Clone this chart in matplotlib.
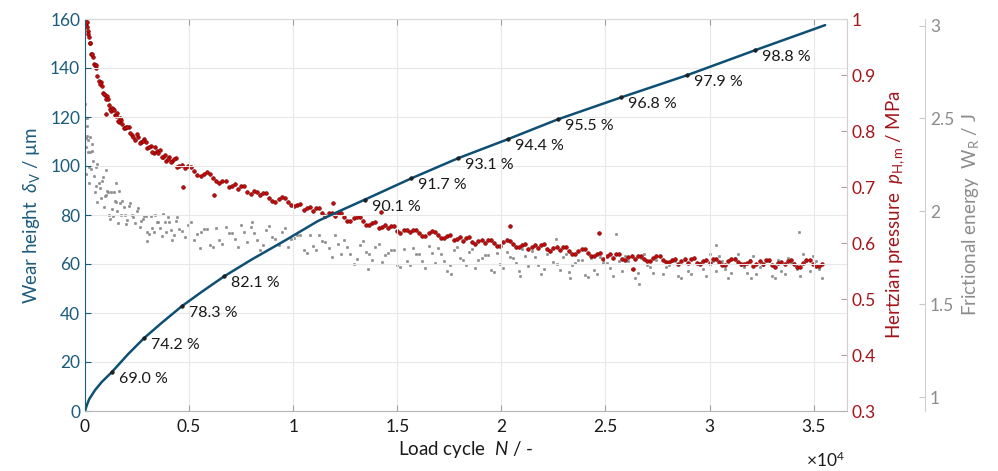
import matplotlib
matplotlib.use("Agg")
import matplotlib.pyplot as plt
from matplotlib.ticker import FuncFormatter, FixedLocator

plt.rcParams['font.family'] = ['Lato', 'DejaVu Sans']
plt.rcParams['mathtext.fontset'] = 'custom'
plt.rcParams['mathtext.rm'] = 'Lato'
plt.rcParams['mathtext.it'] = 'Lato:italic'

# ---------------- data ----------------
# Wear height curve (load cycles, µm)
wear_N = [0, 80, 200, 480, 800, 1280, 2080, 2830, 3700, 4640, 5600, 6690, 8000, 9610,
          11200, 12300, 13450, 15660, 17900, 20300, 22700, 25750, 28900, 32200, 35550]
wear_d = [0, 2.2, 4.8, 8.5, 11.8, 15.8, 23.3, 29.7, 36.1, 42.7, 48.6, 55.0, 61.8, 69.6,
          77.6, 81.9, 86.3, 94.9, 103.1, 110.9, 119.0, 128.0, 137.0, 147.3, 157.5]

# Marked points with percentage labels
pct_N = [1280, 2830, 4640, 6690, 13450, 15660, 17900, 20300, 22700, 25750, 28900, 32200]
pct_d = [15.8, 29.7, 42.7, 55.0, 86.3, 94.9, 103.1, 110.9, 119.0, 128.0, 137.0, 147.3]
pct_labels = ['69.0 %', '74.2 %', '78.3 %', '82.1 %', '90.1 %', '91.7 %', '93.1 %',
              '94.4 %', '95.5 %', '96.8 %', '97.9 %', '98.8 %']

# Measurement cycles for pressure / frictional energy (set A)
meas_N = [0, 50, 100, 160, 220, 300, 380, 460, 550, 650, 750, 850, 950, 1050, 1150,
          1250, 1350, 1450, 1550, 1650, 1750, 1850, 1950, 2100, 2250, 2400, 2550, 2700,
          2850, 3000, 3150, 3300, 3450, 3600, 3750, 3900, 4050, 4200, 4350, 4500,
          4800, 5100, 5400, 5700, 6000, 6300, 6600, 6900, 7200, 7500, 7800, 8100, 8400,
          8700, 9000, 9300, 9600, 9900, 10200, 10500, 10800, 11100, 11400, 11700, 12000,
          12300, 12600, 12900, 13200, 13500, 13800, 14100, 14400, 14700, 15000, 15300,
          15600, 15900, 16200, 16500, 16800, 17100, 17400, 17700, 18000, 18300, 18600,
          18900, 19200, 19500, 19800, 20100, 20400, 20700, 21000, 21300, 21600, 21900,
          22200, 22500, 22800, 23100, 23400, 23700, 24000, 24300, 24600, 24900, 25200,
          25500, 25800, 26100, 26400, 26700, 27000, 27300, 27600, 27900, 28200, 28500,
          28800, 29100, 29400, 29700, 30000, 30300, 30600, 30900, 31200, 31500, 31800,
          32100, 32400, 32700, 33000, 33300, 33600, 33900, 34200, 34500, 34800, 35100,
          35400]
# Measurement cycles (set B, in between)
meas2_N = [25, 75, 130, 190, 260, 340, 420, 505, 600, 700, 800, 900, 1000, 1100, 1200,
           1300, 1400, 1500, 1600, 1700, 1800, 1900, 2025, 2175, 2325, 2475, 2625, 2775,
           2925, 3075, 3225, 3375, 3525, 3675, 3825, 3975, 4125, 4275, 4425, 4650,
           4950, 5250, 5550, 5850, 6150, 6450, 6750, 7050, 7350, 7650, 7950, 8250, 8550,
           8850, 9150, 9450, 9750, 10050, 10350, 10650, 10950, 11250, 11550, 11850,
           12150, 12450, 12750, 13050, 13350, 13650, 13950, 14250, 14550, 14850, 15150,
           15450, 15750, 16050, 16350, 16650, 16950, 17250, 17550, 17850, 18150, 18450,
           18750, 19050, 19350, 19650, 19950, 20250, 20550, 20850, 21150, 21450, 21750,
           22050, 22350, 22650, 22950, 23250, 23550, 23850, 24150, 24450, 24750, 25050,
           25350, 25650, 25950, 26250, 26550, 26850, 27150, 27450, 27750, 28050, 28350,
           28650, 28950, 29250, 29550, 29850, 30150, 30450, 30750, 31050, 31350, 31650,
           31950, 32250, 32550, 32850, 33150, 33450, 33750, 34050, 34350, 34650, 34950,
           35250]

# Hertzian pressure p_H,m (MPa)
pressure = [0.998, 0.987, 0.986, 0.978, 0.957, 0.938, 0.933, 0.917, 0.912, 0.889,
            0.887, 0.867, 0.865, 0.862, 0.846, 0.835, 0.839, 0.829, 0.832, 0.816,
            0.819, 0.805, 0.808, 0.807, 0.793, 0.784, 0.790, 0.781, 0.785, 0.770,
            0.774, 0.761, 0.764, 0.766, 0.754, 0.747, 0.753, 0.746, 0.751, 0.737,
            0.734, 0.736, 0.722, 0.724, 0.724, 0.710, 0.710, 0.700, 0.705, 0.702,
            0.691, 0.692, 0.685, 0.689, 0.675, 0.679, 0.680, 0.667, 0.668, 0.659,
            0.665, 0.663, 0.653, 0.654, 0.648, 0.653, 0.640, 0.644, 0.646, 0.633,
            0.635, 0.626, 0.633, 0.631, 0.622, 0.624, 0.619, 0.624, 0.612, 0.618,
            0.620, 0.609, 0.612, 0.605, 0.610, 0.609, 0.601, 0.604, 0.600, 0.606,
            0.595, 0.601, 0.604, 0.593, 0.596, 0.589, 0.597, 0.597, 0.589, 0.591,
            0.587, 0.592, 0.581, 0.586, 0.589, 0.577, 0.580, 0.572, 0.580, 0.580,
            0.572, 0.575, 0.571, 0.577, 0.567, 0.573, 0.576, 0.566, 0.569, 0.563,
            0.571, 0.572, 0.565, 0.568, 0.565, 0.572, 0.561, 0.568, 0.572, 0.562,
            0.565, 0.559, 0.568, 0.569, 0.561, 0.565, 0.562, 0.569, 0.558, 0.565,
            0.569, 0.559, 0.563]
pressure2 = [0.993, 0.994, 0.973, 0.968, 0.957, 0.937, 0.919, 0.918, 0.899, 0.884,
             0.881, 0.866, 0.857, 0.857, 0.839, 0.841, 0.837, 0.826, 0.817, 0.823,
             0.813, 0.805, 0.807, 0.796, 0.790, 0.794, 0.778, 0.782, 0.780, 0.771,
             0.763, 0.771, 0.761, 0.754, 0.758, 0.750, 0.745, 0.750, 0.736, 0.740,
             0.738, 0.728, 0.720, 0.726, 0.716, 0.708, 0.711, 0.702, 0.697, 0.701,
             0.687, 0.691, 0.690, 0.681, 0.674, 0.682, 0.673, 0.666, 0.670, 0.662,
             0.658, 0.663, 0.649, 0.654, 0.653, 0.646, 0.639, 0.647, 0.639, 0.632,
             0.637, 0.629, 0.626, 0.631, 0.618, 0.624, 0.624, 0.617, 0.612, 0.621,
             0.614, 0.609, 0.615, 0.607, 0.603, 0.610, 0.598, 0.605, 0.606, 0.600,
             0.595, 0.605, 0.598, 0.593, 0.599, 0.593, 0.591, 0.598, 0.585, 0.592,
             0.592, 0.586, 0.580, 0.590, 0.582, 0.577, 0.582, 0.576, 0.574, 0.581,
             0.569, 0.576, 0.577, 0.571, 0.567, 0.577, 0.570, 0.566, 0.572, 0.567,
             0.565, 0.573, 0.562, 0.569, 0.571, 0.566, 0.561, 0.572, 0.566, 0.562,
             0.568, 0.563, 0.562, 0.570, 0.558, 0.566, 0.568, 0.563, 0.558, 0.569,
             0.563, 0.559]
press_out_N = [1000, 4700, 6200, 11900, 14200, 20400, 24700, 26300]
press_out_p = [0.830, 0.700, 0.686, 0.672, 0.655, 0.630, 0.617, 0.553]

# Frictional energy W_R (J)
energy = [2.500, 2.345, 2.405, 2.320, 2.400, 2.225, 2.270, 2.105, 2.240, 2.150,
          2.070, 2.185, 2.080, 2.110, 1.980, 2.105, 1.975, 2.055, 2.000, 2.110,
          1.980, 2.025, 1.930, 2.030, 1.980, 1.935, 2.020, 1.950, 1.975, 1.890,
          1.975, 1.890, 1.945, 1.910, 1.985, 1.890, 1.940, 1.845, 1.950, 1.905,
          1.860, 1.945, 1.880, 1.905, 1.820, 1.908, 1.825, 1.882, 1.850, 1.928,
          1.836, 1.884, 1.792, 1.900, 1.860, 1.820, 1.910, 1.850, 1.875, 1.790,
          1.875, 1.790, 1.840, 1.800, 1.870, 1.770, 1.810, 1.715, 1.820, 1.780,
          1.740, 1.825, 1.765, 1.790, 1.710, 1.795, 1.710, 1.770, 1.735, 1.815,
          1.720, 1.770, 1.680, 1.790, 1.750, 1.710, 1.798, 1.736, 1.765, 1.685,
          1.775, 1.694, 1.752, 1.720, 1.798, 1.705, 1.753, 1.660, 1.768, 1.726,
          1.684, 1.772, 1.710, 1.740, 1.658, 1.746, 1.665, 1.724, 1.693, 1.772,
          1.681, 1.730, 1.640, 1.750, 1.710, 1.670, 1.760, 1.700, 1.730, 1.650,
          1.740, 1.660, 1.720, 1.690, 1.770, 1.680, 1.730, 1.640, 1.750, 1.710,
          1.670, 1.760, 1.700, 1.730, 1.650, 1.740, 1.660, 1.720, 1.690, 1.770,
          1.680, 1.730, 1.640]
energy2 = [2.395, 2.460, 2.385, 2.240, 2.320, 2.325, 2.190, 2.135, 2.255, 2.125,
           2.165, 2.025, 2.088, 2.105, 1.960, 2.010, 2.105, 2.050, 1.935, 2.045,
           2.058, 1.982, 1.955, 2.045, 1.968, 2.002, 1.915, 1.958, 1.972, 1.878,
           1.912, 1.978, 1.942, 1.868, 1.942, 1.970, 1.898, 1.872, 1.968, 1.892,
           1.928, 1.843, 1.888, 1.903, 1.809, 1.847, 1.914, 1.881, 1.809, 1.887,
           1.915, 1.843, 1.821, 1.920, 1.850, 1.890, 1.810, 1.858, 1.873, 1.778,
           1.813, 1.875, 1.835, 1.755, 1.825, 1.845, 1.768, 1.743, 1.840, 1.770,
           1.808, 1.725, 1.773, 1.790, 1.698, 1.733, 1.800, 1.768, 1.695, 1.773,
           1.800, 1.730, 1.710, 1.810, 1.740, 1.779, 1.697, 1.746, 1.765, 1.675,
           1.715, 1.783, 1.751, 1.679, 1.757, 1.784, 1.712, 1.689, 1.787, 1.715,
           1.753, 1.671, 1.720, 1.739, 1.647, 1.686, 1.755, 1.724, 1.653, 1.732,
           1.761, 1.690, 1.670, 1.770, 1.700, 1.740, 1.660, 1.710, 1.730, 1.640,
           1.680, 1.750, 1.720, 1.650, 1.730, 1.760, 1.690, 1.670, 1.770, 1.700,
           1.740, 1.660, 1.710, 1.730, 1.640, 1.680, 1.750, 1.720, 1.650, 1.730,
           1.760, 1.690]
energy_out_N = [0, 30, 120, 200, 350, 600, 1000, 1500, 3000, 5500, 8000, 13600,
                17600, 20900, 22600, 23300, 25500, 26600, 30300, 34300, 32000]
energy_out_W = [2.58, 2.20, 2.50, 2.15, 2.36, 2.05, 2.22, 2.15, 1.84, 1.80, 1.94,
                1.69, 1.66, 1.65, 1.85, 1.64, 1.88, 1.61, 1.82, 1.89, 1.64]

x_ticks = [0, 5000, 10000, 15000, 20000, 25000, 30000, 35000]
left_ticks = [0, 20, 40, 60, 80, 100, 120, 140, 160]
press_ticks = [0.3, 0.4, 0.5, 0.6, 0.7, 0.8, 0.9, 1.0]
energy_ticks = [1, 1.5, 2, 2.5, 3]

# ---------------- style ----------------
BLUE_LINE = '#0e4f74'
BLUE_TXT = '#1c5c7c'
RED_TXT = '#a3151b'
RED_FACE = '#cc0a0a'
RED_EDGE = '#7a0000'
GREY = '#8e8e8e'
GREY_TXT = '#8c8c8c'

W, H = 998, 471
fig = plt.figure(figsize=(W / 100, H / 100), dpi=100)
x0, x1, y0, y1 = 85, 847, 19, 411
ax = fig.add_axes([x0 / W, 1 - y1 / H, (x1 - x0) / W, (y1 - y0) / H])
ax2 = ax.twinx()
ax3 = ax.twinx()

ax.set_zorder(3)
ax2.set_zorder(2)
ax3.set_zorder(1)
for a in (ax, ax2, ax3):
    a.patch.set_visible(False)

gkw = dict(ls='none', marker='o', ms=1.9, mfc=GREY, mec=GREY, mew=0.3)
rkw = dict(ls='none', marker='o', ms=2.6, mfc=RED_FACE, mec=RED_EDGE, mew=0.5)
# grey: frictional energy
ax3.plot(meas_N, energy, **gkw)
ax3.plot(meas2_N, energy2, **gkw)
ax3.plot(energy_out_N, energy_out_W, **gkw)
# red: Hertzian pressure
ax2.plot(meas_N, pressure, **rkw)
ax2.plot(meas2_N, pressure2, **rkw)
ax2.plot(press_out_N, press_out_p, **rkw)
# blue: wear height
ax.plot(wear_N, wear_d, color=BLUE_LINE, lw=1.8, solid_capstyle='round')
ax.plot(pct_N, pct_d, ls='none', marker='o', ms=2.6, mfc='#222222', mec='#111111', mew=0.4)
for n, d, lab in zip(pct_N, pct_d, pct_labels):
    ax.annotate(lab, (n, d), xytext=(5, -5), textcoords='offset points',
                ha='left', va='center', fontsize=11.5, color='#1a1a1a')

# limits
ax.set_xlim(0, 36600)
ax.set_ylim(0, 160)
ax2.set_ylim(0.3, 1.0)
ax3.set_ylim(0.925, 3.035)

# ticks
ax.xaxis.set_major_locator(FixedLocator(x_ticks))
ax.xaxis.set_major_formatter(FuncFormatter(lambda v, p: f'{v / 1e4:g}'))
ax.yaxis.set_major_locator(FixedLocator(left_ticks))
ax2.yaxis.set_major_locator(FixedLocator(press_ticks))
ax2.yaxis.set_major_formatter(FuncFormatter(lambda v, p: f'{v:g}'))
ax3.yaxis.set_major_locator(FixedLocator(energy_ticks))
ax3.yaxis.set_major_formatter(FuncFormatter(lambda v, p: f'{v:g}'))

ax.tick_params(axis='x', direction='in', top=True, length=4, width=0.8,
               color='#a0a0a0', labelsize=12.5, labelcolor='#1a1a1a', pad=6)
ax.tick_params(axis='y', direction='in', length=4, width=0.8,
               color=BLUE_TXT, labelsize=12.5, labelcolor=BLUE_TXT)
ax2.tick_params(axis='y', direction='in', length=4, width=0.8,
                color='#b0a0a0', labelsize=12.5, labelcolor=RED_TXT)
ax3.tick_params(axis='y', direction='in', length=4, width=0.8,
                color='#c8c8c8', labelsize=12.5, labelcolor=GREY_TXT)

ax.grid(True, color='#e8e8e8', lw=0.8)

# spines
ax.spines['left'].set_color(BLUE_TXT)
ax.spines['bottom'].set_color('#b5b5b5')
ax.spines['top'].set_color('#d8d8d8')
ax.spines['right'].set_visible(False)
for s in ('left', 'top', 'bottom'):
    ax2.spines[s].set_visible(False)
ax2.spines['right'].set_color('#d8cccc')
for s in ('left', 'top', 'bottom'):
    ax3.spines[s].set_visible(False)
ax3.spines['right'].set_position(('axes', (925 - x0) / (x1 - x0)))
ax3.spines['right'].set_color('#d0d0d0')

# labels
ax.set_ylabel(r'Wear height  $\delta_{\mathrm{V}}$ / µm', color=BLUE_TXT, fontsize=13.5, labelpad=6)
ax2.set_ylabel(r'Hertzian pressure  $p_{\mathrm{H,m}}$ / MPa', color=RED_TXT, fontsize=13.5, labelpad=6)
ax3.set_ylabel(r'Frictional energy  $\mathrm{W_R}$ / J', color=GREY_TXT, fontsize=13.5, labelpad=4)
ax.set_xlabel(r'Load cycle  $N$ / -', color='#1a1a1a', fontsize=13.5, labelpad=3)

fig.text(845 / W, 1 - 467 / H, r'$\times$10$^{4}$', ha='right', va='baseline',
         fontsize=12.5, color='#1a1a1a')

fig.savefig('out.png', dpi=100, facecolor='white')
